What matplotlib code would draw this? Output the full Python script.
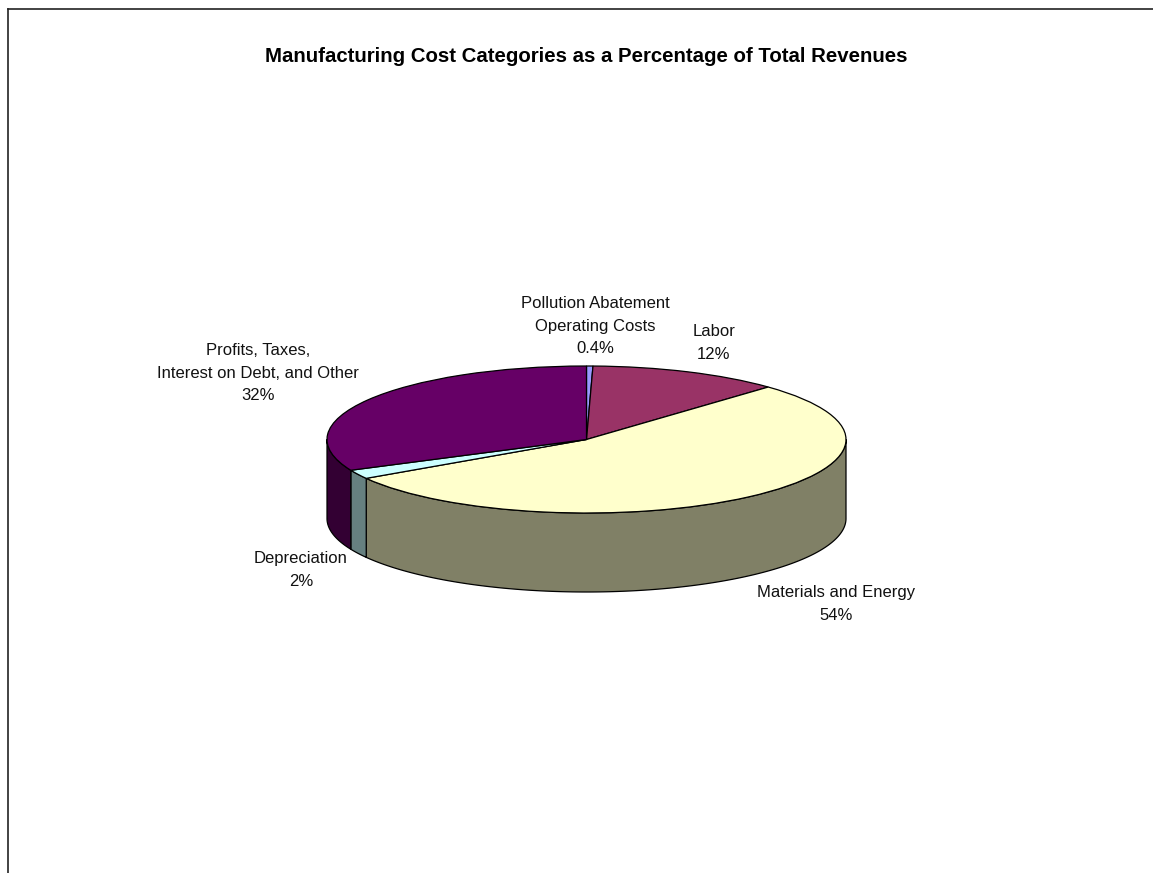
import numpy as np
import matplotlib
matplotlib.use('Agg')
import matplotlib.pyplot as plt
from matplotlib.lines import Line2D
from matplotlib.patches import Polygon

plt.rcParams['font.family'] = ['Liberation Sans', 'DejaVu Sans']

# Cost shares in percent, clockwise from 12 o'clock
categories = ['Pollution Abatement\nOperating Costs', 'Labor', 'Materials and Energy',
              'Depreciation', 'Profits, Taxes,\nInterest on Debt, and Other']
shares = [0.4, 12, 54, 2, 32]
share_labels = ['0.4%', '12%', '54%', '2%', '32%']
top_colors = ['#9999FF', '#993366', '#FFFFCC', '#CCFFFF', '#660066']
side_colors = ['#4D4D80', '#4D1A33', '#808066', '#668080', '#330033']

# Label centres in pixels from the top left of the figure
label_pos = [(595, 326), (714, 343), (836, 604), (301, 570), (258, 373)]

W, H = 1153, 873
cx, cy = 586.5, 439.5   # pie centre
rx, ry = 259.5, 73.5    # ellipse radii
depth = 79 / ry         # wall height in pie units

fig = plt.figure(figsize=(W / 100, H / 100), dpi=100)
ax = fig.add_axes([0, 0, 1, 1])

# Side walls, only the part of each slice facing the viewer (90 to 270 deg clockwise from top)
edges = np.concatenate([[0], np.cumsum(shares)]) / np.sum(shares) * 360
for i in range(len(shares)):
    a0 = max(edges[i], 90)
    a1 = min(edges[i + 1], 270)
    if a1 <= a0:
        continue
    t = np.radians(np.linspace(a0, a1, 200))
    x = np.sin(t)
    y = np.cos(t)
    pts = np.vstack([np.column_stack([x, y]),
                     np.column_stack([x[::-1], y[::-1] - depth])])
    ax.add_patch(Polygon(pts, closed=True, facecolor=side_colors[i],
                         edgecolor='black', linewidth=0.9, joinstyle='round'))

# Top face
ax.pie(shares, colors=top_colors, startangle=90, counterclock=False, radius=1,
       wedgeprops={'edgecolor': 'black', 'linewidth': 0.9})

# Stretch the circle into an ellipse by giving x and y different scales
ax.set_aspect('auto')
ax.set_xlim(-cx / rx, (W - cx) / rx)
ax.set_ylim((cy - H) / ry, cy / ry)
ax.axis('off')

fig.text(586.5 / W, 1 - 56 / H, 'Manufacturing Cost Categories as a Percentage of Total Revenues',
         fontsize=14.7, fontweight='bold', ha='center', va='center', color='black')

for name, pct, (px, py) in zip(categories, share_labels, label_pos):
    fig.text(px / W, 1 - py / H, name + '\n' + pct, fontsize=12, ha='center', va='center',
             linespacing=1.64, color='#111111')

# Chart frame, open on the right and at the bottom
fig.add_artist(Line2D([8 / W, 8 / W], [0, 1 - 9 / H], color='#222222', linewidth=1.2))
fig.add_artist(Line2D([8 / W, 1], [1 - 9 / H, 1 - 9 / H], color='#222222', linewidth=1.2))

fig.savefig('out.png', dpi=100)
